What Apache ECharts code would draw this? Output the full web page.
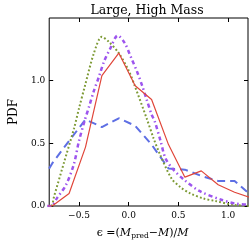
<!DOCTYPE html>
<html><head><meta charset="utf-8">
<script src="https://cdn.jsdelivr.net/npm/echarts@6/dist/echarts.min.js"></script>
<style>html,body{margin:0;padding:0;background:#fff}#c{width:249px;height:245px}</style>
</head><body><div id="c"></div>
<script>
const titleText = 'Large, High Mass';
const xTicks = [-0.5, 0.0, 0.5, 1.0];
const yTicks = [0.0, 0.5, 1.0];
const binCenters = [-0.935, -0.77, -0.6, -0.435, -0.27, -0.1, 0.065, 0.23, 0.4, 0.565, 0.73, 0.9, 1.065, 1.23];
const redValues  = [0, 0, 0.1, 0.47, 1.04, 1.22, 0.96, 0.85, 0.49, 0.23, 0.28, 0.17, 0.11, 0.065];
const blueValues = [0.12, 0.34, 0.52, 0.69, 0.63, 0.70, 0.64, 0.49, 0.30, 0.29, 0.24, 0.20, 0.20, 0.085];
const greenX = [-0.82, -0.78, -0.75, -0.65, -0.55, -0.5, -0.44, -0.35, -0.27, -0.2, -0.1, 0.0, 0.06, 0.18, 0.25, 0.31, 0.43, 0.52, 0.62, 0.75, 0.87, 1.05, 1.22];
const greenY = [0, 0, 0.08, 0.35, 0.62, 0.78, 0.96, 1.22, 1.35, 1.31, 1.22, 1.08, 0.96, 0.70, 0.54, 0.42, 0.22, 0.15, 0.10, 0.06, 0.04, 0.01, 0];
const purpleX = [-0.82, -0.78, -0.72, -0.63, -0.55, -0.5, -0.44, -0.4, -0.35, -0.3, -0.25, -0.19, -0.11, -0.04, 0.026, 0.08, 0.135, 0.18, 0.23, 0.26, 0.32, 0.37, 0.45, 0.556, 0.71, 0.93, 1.07, 1.22];
const purpleY = [0, 0, 0.065, 0.17, 0.34, 0.52, 0.69, 0.79, 0.92, 1.03, 1.15, 1.25, 1.36, 1.30, 1.18, 1.08, 0.96, 0.85, 0.73, 0.68, 0.52, 0.38, 0.29, 0.21, 0.12, 0.05, 0.02, 0.01];

const zip = (xs, ys) => xs.map((x, i) => [x, ys[i]]);
const font = 'DejaVu Serif';
const fmt = v => (v < 0 ? '\u2212' : '') + Math.abs(v).toFixed(1);

const chart = echarts.init(document.getElementById('c'), null, {renderer: 'canvas'});
const commonX = {
  type: 'value', min: -0.8, max: 1.2, interval: 0.5,
  splitLine: {show: false},
  axisLine: {show: false, onZero: false},
};
const tick = {show: true, inside: true, length: 4, lineStyle: {color: '#000', width: 1}};
chart.setOption({
  animation: false,
  title: {text: titleText, left: 142, top: -1, textAlign: 'center',
    textStyle: {fontFamily: font, fontSize: 12.5, fontWeight: 'normal', color: '#000'}},
  grid: {left: 34, right: 1, top: 18, bottom: 35, show: true, borderColor: '#000', borderWidth: 1, backgroundColor: 'transparent'},
  xAxis: [
    Object.assign({}, commonX, {
      position: 'bottom',
      axisTick: Object.assign({}, tick, {customValues: xTicks}),
      axisLabel: {show: true, fontFamily: font, fontSize: 9, color: '#000', margin: 5,
        customValues: xTicks, formatter: fmt},
      name: '{e|\u03f5}{n| =(}{i|M}{s|pred}{n|\u2212}{i|M}{n|)/}{i|M}',
      nameLocation: 'middle', nameGap: 21,
      nameTextStyle: {fontFamily: font, fontSize: 11, color: '#000', align: 'center', padding: [0, 12, 0, 0],
        rich: {
          e: {fontFamily: font, fontSize: 11, color: '#000'},
          n: {fontFamily: font, fontSize: 11, color: '#000'},
          i: {fontFamily: font, fontSize: 11, fontStyle: 'italic', color: '#000'},
          s: {fontFamily: font, fontSize: 7.5, color: '#000', padding: [5, 0, 0, 0]}
        }}
    }),
    Object.assign({}, commonX, {
      position: 'top',
      axisTick: Object.assign({}, tick, {customValues: xTicks}),
      axisLabel: {show: false, customValues: xTicks}
    })
  ],
  yAxis: [
    {type: 'value', min: 0, max: 1.5, interval: 0.5, position: 'left',
      splitLine: {show: false}, axisLine: {show: false, onZero: false},
      axisTick: Object.assign({}, tick, {customValues: yTicks}),
      axisLabel: {fontFamily: font, fontSize: 9, color: '#000', margin: 4, customValues: yTicks, formatter: fmt},
      name: 'PDF', nameLocation: 'middle', nameGap: 24, nameRotate: 90,
      nameTextStyle: {fontFamily: font, fontSize: 12, color: '#000'}},
    {type: 'value', min: 0, max: 1.5, interval: 0.5, position: 'right',
      splitLine: {show: false}, axisLine: {show: false, onZero: false},
      axisTick: Object.assign({}, tick, {customValues: yTicks}),
      axisLabel: {show: false, customValues: yTicks}}
  ],
  series: [
    {type: 'line', data: zip(binCenters, blueValues), showSymbol: false, clip: true,
      lineStyle: {color: '#5e6fe4', width: 2, type: [8, 5]}},
    {type: 'line', data: zip(greenX, greenY), showSymbol: false, smooth: 0.3, clip: true,
      lineStyle: {color: '#7d9a35', width: 2, type: [1.8, 2.2]}},
    {type: 'line', data: zip(purpleX, purpleY), showSymbol: false, smooth: 0.3, clip: true,
      lineStyle: {color: '#9d55ee', width: 2.5, type: [4, 3, 1.5, 3]}},
    {type: 'line', data: zip(binCenters, redValues), showSymbol: false, clip: true,
      lineStyle: {color: '#e0463a', width: 1.2}}
  ]
});
</script></body></html>
